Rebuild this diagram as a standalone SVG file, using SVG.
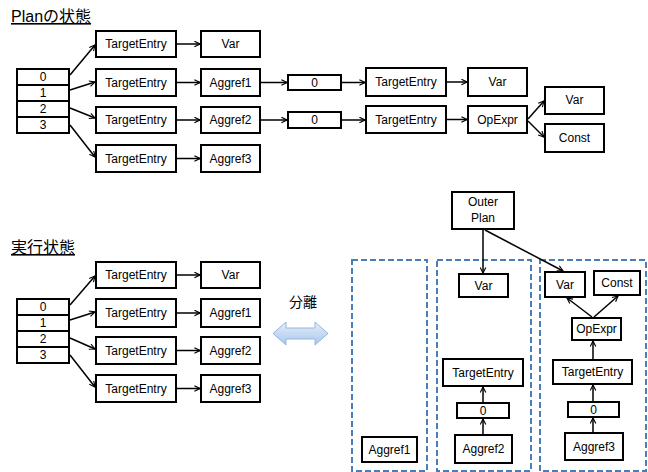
<svg xmlns="http://www.w3.org/2000/svg" width="648" height="472" viewBox="0 0 648 472">
<defs>
<style>
.b{fill:#fff;stroke:#000;stroke-width:2}
.t{font-family:"Liberation Sans","Noto Sans CJK JP",sans-serif;font-size:12px;fill:#000;text-anchor:middle;dominant-baseline:central}
.h{font-family:"Liberation Sans","Noto Sans CJK JP",sans-serif;font-size:16px;font-weight:normal;fill:#000;text-decoration:underline}
.c line{stroke:#000;stroke-width:1.5;marker-end:url(#a)}
.d{fill:none;stroke:#4a7ebb;stroke-width:2;stroke-dasharray:6,3}
</style>
<marker id="a" viewBox="0 0 10 10" refX="9" refY="5" markerWidth="7" markerHeight="7" markerUnits="userSpaceOnUse" orient="auto">
<path d="M1,1 L9,5 L1,9" fill="none" stroke="#000" stroke-width="1.6"/>
</marker>
<linearGradient id="g" x1="0" y1="0" x2="0" y2="1">
<stop offset="0" stop-color="#e4eefa"/>
<stop offset="1" stop-color="#a9c6ec"/>
</linearGradient>
</defs>
<rect width="648" height="472" fill="#fff"/>
<text class="h" x="11" y="22">Planの状態</text>
<text class="h" x="11" y="253">実行状態</text>

<g id="arr1">
<rect class="b" x="17" y="69" width="52" height="64"/>
<line x1="17" y1="85" x2="69" y2="85" stroke="#000" stroke-width="2"/>
<line x1="17" y1="101" x2="69" y2="101" stroke="#000" stroke-width="2"/>
<line x1="17" y1="117" x2="69" y2="117" stroke="#000" stroke-width="2"/>
<text class="t" x="43" y="77">0</text><text class="t" x="43" y="93">1</text><text class="t" x="43" y="109">2</text><text class="t" x="43" y="125">3</text>
</g>
<g id="te1"><rect class="b" x="96" y="31" width="80" height="26"/><text class="t" x="136" y="44">TargetEntry</text></g>
<g id="te2"><rect class="b" x="96" y="69" width="80" height="27"/><text class="t" x="136" y="82.5">TargetEntry</text></g>
<g id="te3"><rect class="b" x="96" y="107" width="80" height="26"/><text class="t" x="136" y="120">TargetEntry</text></g>
<g id="te4"><rect class="b" x="96" y="145" width="80" height="27"/><text class="t" x="136" y="158.5">TargetEntry</text></g>
<g id="var1"><rect class="b" x="201" y="31" width="59" height="26"/><text class="t" x="230.5" y="44">Var</text></g>
<g id="ag1"><rect class="b" x="201" y="69" width="59" height="27"/><text class="t" x="230.5" y="82.5">Aggref1</text></g>
<g id="ag2"><rect class="b" x="201" y="107" width="59" height="26"/><text class="t" x="230.5" y="120">Aggref2</text></g>
<g id="ag3"><rect class="b" x="201" y="145" width="59" height="27"/><text class="t" x="230.5" y="158.5">Aggref3</text></g>
<g id="z1"><rect class="b" x="288" y="75" width="53" height="15"/><text class="t" x="314.5" y="82.5">0</text></g>
<g id="z2"><rect class="b" x="288" y="112" width="53" height="16"/><text class="t" x="314.5" y="120">0</text></g>
<g id="te5"><rect class="b" x="366" y="68" width="80" height="28"/><text class="t" x="406" y="82">TargetEntry</text></g>
<g id="te6"><rect class="b" x="366" y="106" width="80" height="27"/><text class="t" x="406" y="119.5">TargetEntry</text></g>
<g id="var2"><rect class="b" x="468" y="68" width="59" height="28"/><text class="t" x="497.5" y="81.5">Var</text></g>
<g id="op1"><rect class="b" x="468" y="106" width="59" height="27"/><text class="t" x="497.5" y="119.5">OpExpr</text></g>
<g id="var3"><rect class="b" x="545" y="87" width="59" height="27"/><text class="t" x="574.5" y="100">Var</text></g>
<g id="const1"><rect class="b" x="545" y="124" width="59" height="28"/><text class="t" x="574.5" y="137.5">Const</text></g>

<g id="arr2">
<rect class="b" x="17" y="299" width="52" height="64"/>
<line x1="17" y1="315" x2="69" y2="315" stroke="#000" stroke-width="2"/>
<line x1="17" y1="331" x2="69" y2="331" stroke="#000" stroke-width="2"/>
<line x1="17" y1="347" x2="69" y2="347" stroke="#000" stroke-width="2"/>
<text class="t" x="43" y="307">0</text><text class="t" x="43" y="323">1</text><text class="t" x="43" y="339">2</text><text class="t" x="43" y="355">3</text>
</g>
<g id="te7"><rect class="b" x="96" y="262" width="80" height="26"/><text class="t" x="136" y="275">TargetEntry</text></g>
<g id="te8"><rect class="b" x="96" y="299" width="80" height="28"/><text class="t" x="136" y="313">TargetEntry</text></g>
<g id="te9"><rect class="b" x="96" y="337" width="80" height="27"/><text class="t" x="136" y="350.5">TargetEntry</text></g>
<g id="te10"><rect class="b" x="96" y="375" width="80" height="27"/><text class="t" x="136" y="388.5">TargetEntry</text></g>
<g id="var4"><rect class="b" x="201" y="262" width="59" height="26"/><text class="t" x="230.5" y="275">Var</text></g>
<g id="ag4"><rect class="b" x="201" y="299" width="59" height="28"/><text class="t" x="230.5" y="313">Aggref1</text></g>
<g id="ag5"><rect class="b" x="201" y="337" width="59" height="27"/><text class="t" x="230.5" y="350.5">Aggref2</text></g>
<g id="ag6"><rect class="b" x="201" y="375" width="59" height="27"/><text class="t" x="230.5" y="388.5">Aggref3</text></g>

<g id="sep">
<text class="t" x="303" y="302" style="font-size:14px">分離</text>
<path d="M273,333.5 L286,322 L286,328 L315,328 L315,322 L328,333.5 L315,345 L315,339 L286,339 L286,345 Z" fill="url(#g)" stroke="#95b6e0" stroke-width="1"/>
</g>

<g id="grp1"><rect class="d" x="352" y="260" width="75" height="211"/></g>
<g id="grp2"><rect class="d" x="437" y="260" width="94" height="211"/></g>
<g id="grp3"><rect class="d" x="540" y="260" width="106" height="211"/></g>

<g id="outer"><rect class="b" x="452" y="192" width="62" height="37"/><text class="t" x="483" y="202">Outer</text><text class="t" x="483" y="218">Plan</text></g>
<g id="ag7"><rect class="b" x="362" y="437" width="55" height="25"/><text class="t" x="389.5" y="449.5">Aggref1</text></g>
<g id="var5"><rect class="b" x="459" y="274" width="49" height="23"/><text class="t" x="483.5" y="285.5">Var</text></g>
<g id="te11"><rect class="b" x="443" y="359" width="80" height="27"/><text class="t" x="483" y="372.5">TargetEntry</text></g>
<g id="z3"><rect class="b" x="457" y="403" width="52" height="15"/><text class="t" x="483" y="410.5">0</text></g>
<g id="ag8"><rect class="b" x="455" y="435" width="57" height="28"/><text class="t" x="483.5" y="449">Aggref2</text></g>
<g id="var6"><rect class="b" x="545" y="272" width="40" height="25"/><text class="t" x="565" y="284.5">Var</text></g>
<g id="const2"><rect class="b" x="594" y="271" width="46" height="24"/><text class="t" x="617" y="283">Const</text></g>
<g id="op2"><rect class="b" x="572" y="318" width="49" height="22"/><text class="t" x="596.5" y="329">OpExpr</text></g>
<g id="te12"><rect class="b" x="553" y="360" width="79" height="24"/><text class="t" x="592.5" y="372">TargetEntry</text></g>
<g id="z4"><rect class="b" x="568" y="402" width="51" height="15"/><text class="t" x="593.5" y="409.5">0</text></g>
<g id="ag9"><rect class="b" x="565" y="433" width="58" height="27"/><text class="t" x="594" y="446.5">Aggref3</text></g>

<g id="connectors" class="c">
<line x1="70" y1="75" x2="95" y2="45"/>
<line x1="70" y1="90" x2="95" y2="82"/>
<line x1="70" y1="108" x2="95" y2="118"/>
<line x1="70" y1="125" x2="95" y2="157"/>
<line x1="177" y1="44" x2="200" y2="44"/>
<line x1="177" y1="82.5" x2="200" y2="82.5"/>
<line x1="177" y1="120" x2="200" y2="120"/>
<line x1="177" y1="158.5" x2="200" y2="158.5"/>
<line x1="261" y1="82.5" x2="287" y2="82.5"/>
<line x1="261" y1="120" x2="287" y2="120"/>
<line x1="342" y1="82.5" x2="365" y2="82.5"/>
<line x1="342" y1="120" x2="365" y2="120"/>
<line x1="447" y1="82" x2="467" y2="82"/>
<line x1="447" y1="119.5" x2="467" y2="119.5"/>
<line x1="528" y1="119" x2="544" y2="101"/>
<line x1="528" y1="121" x2="544" y2="137"/>
<line x1="70" y1="305" x2="95" y2="276"/>
<line x1="70" y1="320" x2="95" y2="312"/>
<line x1="70" y1="338" x2="95" y2="349"/>
<line x1="70" y1="355" x2="95" y2="387"/>
<line x1="177" y1="275" x2="200" y2="275"/>
<line x1="177" y1="313" x2="200" y2="313"/>
<line x1="177" y1="350.5" x2="200" y2="350.5"/>
<line x1="177" y1="388.5" x2="200" y2="388.5"/>
<line x1="483" y1="230" x2="483" y2="273"/>
<line x1="485" y1="230" x2="563" y2="271"/>
<line x1="483" y1="434" x2="483" y2="419"/>
<line x1="483" y1="402" x2="483" y2="387"/>
<line x1="593" y1="432" x2="593" y2="418"/>
<line x1="593" y1="401" x2="593" y2="385"/>
<line x1="593" y1="359" x2="593" y2="341"/>
<line x1="592" y1="317" x2="567" y2="298"/>
<line x1="594" y1="317" x2="618" y2="296"/>
</g>
</svg>
